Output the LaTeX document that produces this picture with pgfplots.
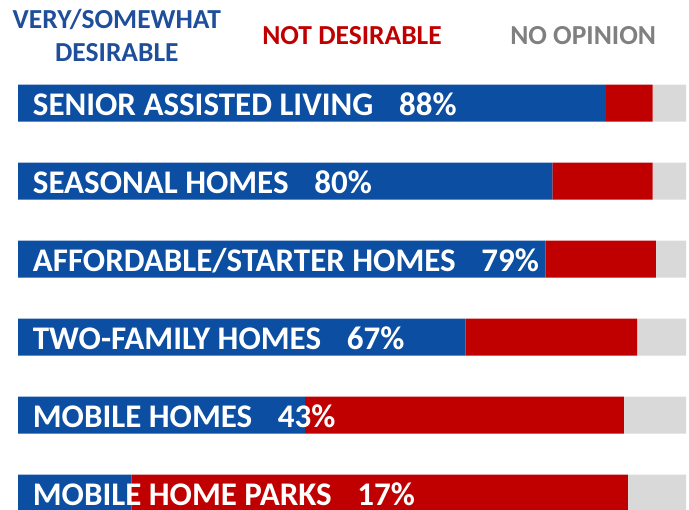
\documentclass[border=0pt]{standalone}
\usepackage{pgfplots}
\pgfplotsset{compat=1.18}
\usepackage{fontspec}
\setmainfont{Carlito}

\definecolor{barblue}{HTML}{0B4EA2}
\definecolor{barred}{HTML}{C00000}
\definecolor{bargrey}{HTML}{D9D9D9}
\definecolor{txtblue}{HTML}{1F4E9B}
\definecolor{txtgrey}{HTML}{808080}

\tikzset{
  barlab/.style={anchor=west, inner sep=0pt, text=white,
    font=\fontsize{33bp}{36bp}\selectfont\bfseries},
  leglab/.style={align=center, inner sep=0pt,
    font=\fontsize{27.5bp}{33bp}\selectfont\bfseries},
}
\newcommand{\gap}{\hspace{0.78em}}

\begin{document}
\begin{tikzpicture}
\begin{axis}[
    xbar stacked,
    scale only axis,
    width=689bp, height=510bp,
    xmin=-2.6946, xmax=100.449,
    ymin=-1.3205, ymax=5.2179,
    y dir=reverse,
    bar width=37bp,
    hide axis,
    ticks=none,
    % stacked bars are drawn at the end, so labels go after them
    after end axis/.code={
      \node[barlab] at (axis cs:2.2,0.02) {SENIOR ASSISTED LIVING\gap 88\%};
      \node[barlab] at (axis cs:2.2,1.02) {SEASONAL HOMES\gap 80\%};
      \node[barlab] at (axis cs:2.2,2.02) {AFFORDABLE/STARTER HOMES\gap 79\%};
      \node[barlab] at (axis cs:2.2,3.02) {TWO-FAMILY HOMES\gap 67\%};
      \node[barlab] at (axis cs:2.2,4.02) {MOBILE HOMES\gap 43\%};
      \node[barlab] at (axis cs:2.2,5.02) {MOBILE HOME PARKS\gap 17\%};
      \node[leglab, text=txtblue] at (axis cs:14.8,-0.87) {VERY/SOMEWHAT\\DESIRABLE};
      \node[leglab, text=barred] at (axis cs:50.0,-0.87) {NOT DESIRABLE};
      \node[leglab, text=txtgrey] at (axis cs:84.6,-0.87) {NO OPINION};
      \coordinate (bl) at (axis cs:-2.6946,5.2179);
      \coordinate (tr) at (axis cs:100.449,-1.3205);
    },
]
% desirable / not desirable / no opinion
\addplot[fill=barblue, draw=none] coordinates {(88,0) (80,1) (79,2) (67,3) (43,4) (17,5)};
\addplot[fill=barred, draw=none] coordinates {(7,0) (15,1) (16.5,2) (25.7,3) (47.7,4) (74.3,5)};
\addplot[fill=bargrey, draw=none] coordinates {(5,0) (5,1) (4.5,2) (7.3,3) (9.3,4) (8.7,5)};
\end{axis}
\pgfresetboundingbox
\path[use as bounding box] (bl) rectangle (tr);
\end{tikzpicture}
\end{document}
